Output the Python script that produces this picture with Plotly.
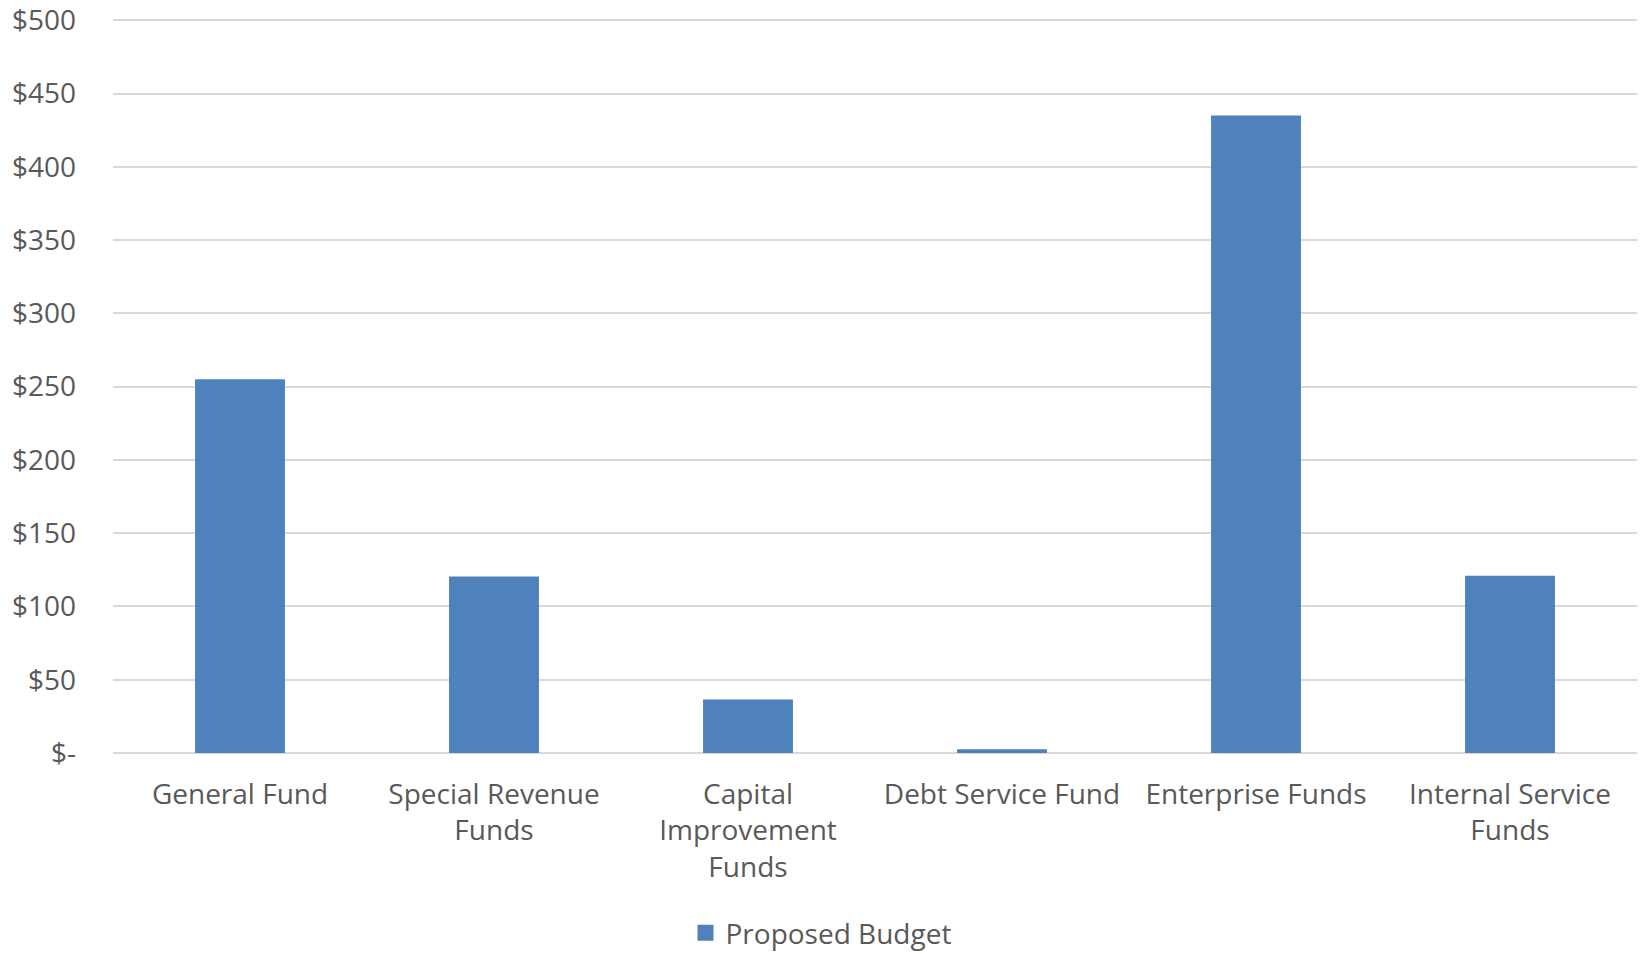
import plotly.graph_objects as go

categories = ["General Fund", "Special Revenue<br>Funds", "Capital<br>Improvement<br>Funds",
              "Debt Service Fund", "Enterprise Funds", "Internal Service<br>Funds"]
values = [255, 120.5, 36.5, 2.5, 435, 121]
tick_vals = [0, 50, 100, 150, 200, 250, 300, 350, 400, 450, 500]
tick_text = ["$-", "$50", "$100", "$150", "$200", "$250", "$300", "$350", "$400", "$450", "$500"]
series_name = "Proposed Budget"

FONT = "Open Sans"
FS = 28
TXT = "#595959"
BAR = "#4F81BD"

fig = go.Figure()
fig.add_trace(go.Bar(x=categories, y=values, name=series_name,
                     marker=dict(color=BAR, line=dict(width=0)),
                     showlegend=False))
# legend entry with a larger square swatch
fig.add_trace(go.Scatter(x=[categories[0]], y=[None], mode="markers", name=series_name,
                         marker=dict(symbol="square", size=16, color=BAR),
                         showlegend=True, hoverinfo="skip"))

fig.update_layout(
    width=1642, height=954,
    margin=dict(l=113, r=5, t=13, b=201, autoexpand=False),
    paper_bgcolor="white", plot_bgcolor="white",
    bargap=0.646,
    font=dict(family=FONT, size=FS, color=TXT),
    showlegend=True,
    legend=dict(orientation="h", x=0.5, xanchor="center", xref="container",
                y=0.022, yanchor="middle", yref="container",
                font=dict(family=FONT, size=FS, color=TXT)),
    xaxis=dict(showgrid=False, showline=False, ticks="", ticklabelstandoff=22,
               automargin=False,
               tickfont=dict(family=FONT, size=FS, color=TXT)),
    yaxis=dict(range=[0, 505], tickvals=tick_vals, ticktext=tick_text,
               showgrid=True, gridcolor="#D9D9D9", gridwidth=1.5,
               zeroline=True, zerolinecolor="#D9D9D9", zerolinewidth=1.5,
               showline=False, ticks="", ticklabelstandoff=36,
               ticklabeloverflow="allow", automargin=False,
               tickfont=dict(family=FONT, size=FS, color=TXT)),
)
fig.write_html("out.html",
               config={"displayModeBar": False},
               post_script="document.body.style.margin='0';document.body.style.overflow='hidden';")
